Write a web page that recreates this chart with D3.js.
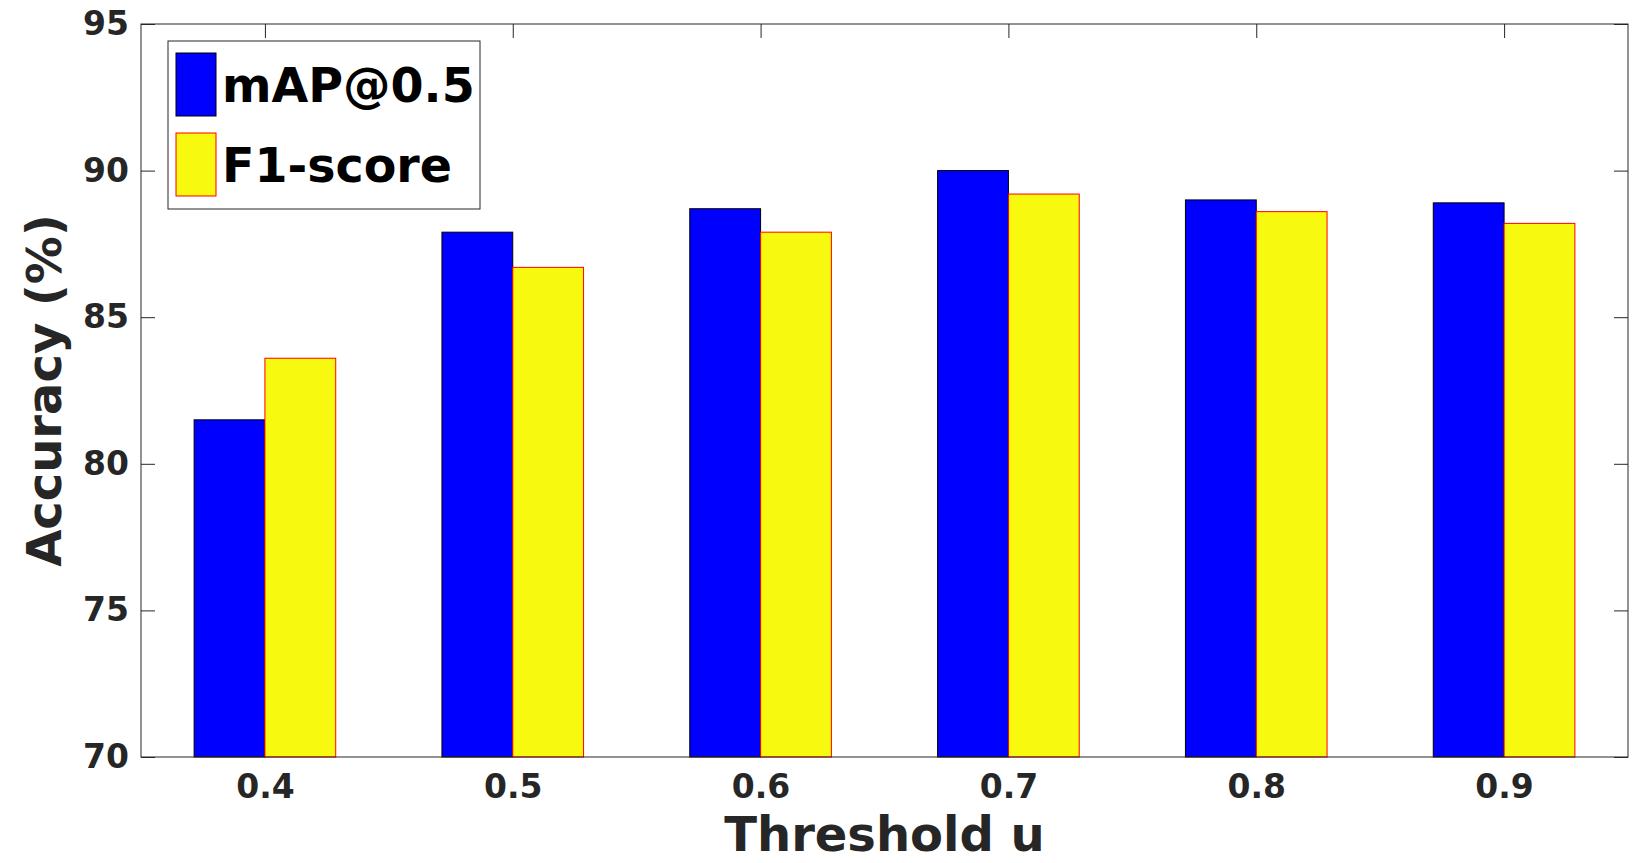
<!DOCTYPE html>
<html>
<head>
<meta charset="utf-8">
<script src="https://cdn.jsdelivr.net/npm/d3@7"></script>
<style>
  body { margin: 0; background: #fff; }
  svg { display: block; }
  text { font-family: "DejaVu Sans", sans-serif; font-weight: bold; }
</style>
</head>
<body>
<div id="chart"></div>
<script>
// data
const thresholds = ["0.4", "0.5", "0.6", "0.7", "0.8", "0.9"];
const mapValues = [81.5, 87.9, 88.7, 90.0, 89.0, 88.9];
const f1Values = [83.6, 86.7, 87.9, 89.2, 88.6, 88.2];
const seriesNames = ["mAP@0.5", "F1-score"];
const yTicks = [70, 75, 80, 85, 90, 95];

const WIDTH = 1650, HEIGHT = 863;
const MARGIN = { TOP: 24, RIGHT: 22, BOTTOM: 106, LEFT: 141 };
const innerW = WIDTH - MARGIN.LEFT - MARGIN.RIGHT;
const innerH = HEIGHT - MARGIN.TOP - MARGIN.BOTTOM;
const TICK = 14;
const AXIS_COLOR = "#262626";

const svg = d3.select("#chart").append("svg")
  .attr("width", WIDTH)
  .attr("height", HEIGHT);

const g = svg.append("g")
  .attr("transform", `translate(${MARGIN.LEFT},${MARGIN.TOP})`);

// category positions like matlab: 1..n with limits [0.5, n+0.5]
const x = d3.scaleLinear()
  .domain([0.5, thresholds.length + 0.5])
  .range([0, innerW]);
const y = d3.scaleLinear()
  .domain([70, 95])
  .range([innerH, 0]);

const barW = 2 / 7; // width of one bar in category units
const idx = thresholds.map((d, i) => i + 1);

// ticks (inside) with labels outside
g.append("g")
  .attr("transform", `translate(0,${innerH})`)
  .call(d3.axisBottom(x).tickValues(idx).tickFormat((d) => thresholds[d - 1])
    .tickSizeInner(-TICK).tickSizeOuter(0).tickPadding(18));
g.append("g")
  .call(d3.axisTop(x).tickValues(idx).tickFormat("")
    .tickSizeInner(-TICK).tickSizeOuter(0));
g.append("g")
  .call(d3.axisLeft(y).tickValues(yTicks)
    .tickSizeInner(-TICK).tickSizeOuter(0).tickPadding(12));
g.append("g")
  .attr("transform", `translate(${innerW},0)`)
  .call(d3.axisRight(y).tickValues(yTicks).tickFormat("")
    .tickSizeInner(-TICK).tickSizeOuter(0));

g.selectAll(".domain").remove();
g.selectAll(".tick line").attr("stroke", AXIS_COLOR);
g.selectAll(".tick text")
  .attr("fill", AXIS_COLOR)
  .style("font-size", "33px");

// bars
g.selectAll("rect.map")
  .data(mapValues)
  .enter().append("rect")
  .attr("class", "map")
  .attr("x", (d, i) => x(i + 1 - barW))
  .attr("y", (d) => y(d))
  .attr("width", x(barW) - x(0))
  .attr("height", (d) => y(70) - y(d))
  .attr("fill", "#0000ff")
  .attr("stroke", "#000")
  .attr("stroke-width", 1);

g.selectAll("rect.f1")
  .data(f1Values)
  .enter().append("rect")
  .attr("class", "f1")
  .attr("x", (d, i) => x(i + 1))
  .attr("y", (d) => y(d))
  .attr("width", x(barW) - x(0))
  .attr("height", (d) => y(70) - y(d))
  .attr("fill", "#f7f90f")
  .attr("stroke", "#ff0000")
  .attr("stroke-width", 1);

// frame
g.append("rect")
  .attr("width", innerW)
  .attr("height", innerH)
  .attr("fill", "none")
  .attr("stroke", AXIS_COLOR)
  .attr("stroke-width", 1);

// axis titles
svg.append("text")
  .attr("x", MARGIN.LEFT + innerW / 2)
  .attr("y", 851)
  .attr("text-anchor", "middle")
  .attr("fill", AXIS_COLOR)
  .style("font-size", "48px")
  .text("Threshold u");

svg.append("text")
  .attr("transform", `translate(61,${MARGIN.TOP + innerH / 2}) rotate(-90)`)
  .attr("text-anchor", "middle")
  .attr("fill", AXIS_COLOR)
  .style("font-size", "48px")
  .text("Accuracy (%)");

// legend
const legend = svg.append("g").attr("transform", "translate(168,41)");
legend.append("rect")
  .attr("width", 312)
  .attr("height", 168)
  .attr("fill", "#fff")
  .attr("stroke", AXIS_COLOR)
  .attr("stroke-width", 1);

const legendFill = ["#0000ff", "#f7f90f"];
const legendStroke = ["#000", "#ff0000"];
seriesNames.forEach((name, i) => {
  legend.append("rect")
    .attr("x", 8)
    .attr("y", 12 + i * 80)
    .attr("width", 40)
    .attr("height", 63)
    .attr("fill", legendFill[i])
    .attr("stroke", legendStroke[i])
    .attr("stroke-width", 1);
  legend.append("text")
    .attr("x", 54)
    .attr("y", 61 + i * 80)
    .attr("fill", "#000")
    .style("font-size", "47.5px")
    .text(name);
});
</script>
</body>
</html>
